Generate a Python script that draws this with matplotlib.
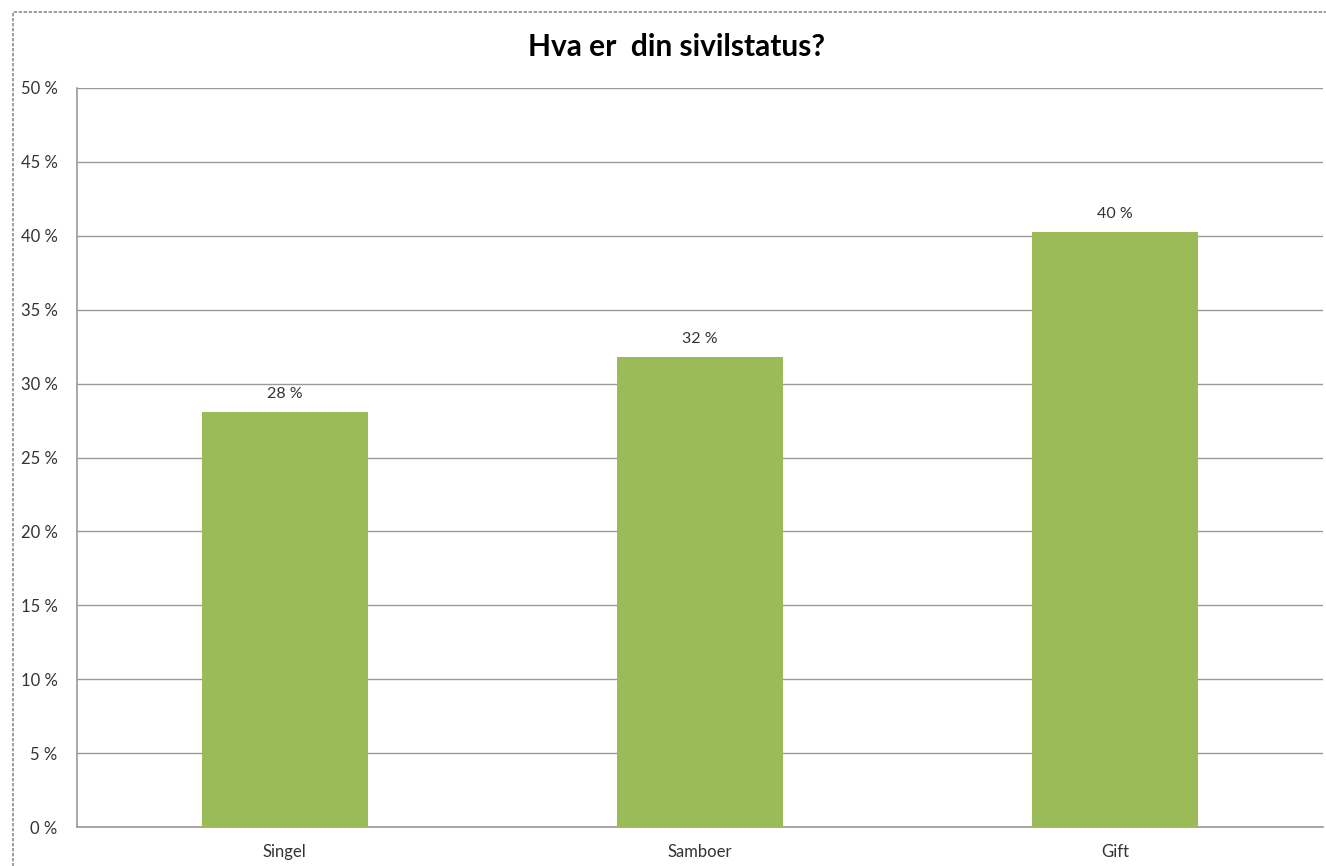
import matplotlib
matplotlib.use("Agg")
import matplotlib.pyplot as plt
from matplotlib.patches import Rectangle
from matplotlib.ticker import MultipleLocator, FuncFormatter

categories = ["Singel", "Samboer", "Gift"]
values = [28.05, 31.8, 40.25]
labels = ["28 %", "32 %", "40 %"]
title = "Hva er  din sivilstatus?"

plt.rcParams['font.family'] = ['Lato', 'DejaVu Sans']

fig = plt.figure(figsize=(13.26, 8.66), dpi=100)
W, H = 1326, 866
# outer dashed border (left and top visible)
fig.patches.append(Rectangle((13 / W, -0.01), 1.1, 1.01 - 12 / H,
                             transform=fig.transFigure, fill=False,
                             edgecolor='#8c8c8c', linewidth=1.2, linestyle=(0, (2, 1))))

ax = fig.add_axes([77 / W, 1 - 827 / H, (1323 - 77) / W, (827 - 88) / H])
x = range(len(categories))
ax.bar(x, values, width=0.4, color='#9bbb59', zorder=3)
ax.set_xlim(-0.5, len(categories) - 0.5)
ax.set_ylim(0, 50)
ax.yaxis.set_major_locator(MultipleLocator(5))
ax.yaxis.set_major_formatter(FuncFormatter(lambda v, p: f"{int(round(v))} %"))
ax.grid(axis='y', color='#999999', linewidth=1.0, zorder=0)
ax.set_xticks(list(x))
ax.set_xticklabels(categories)
ax.tick_params(axis='both', length=0, labelsize=12, colors='#333333')
ax.tick_params(axis='y', pad=14)
ax.tick_params(axis='x', pad=12)
for s in ['top', 'right']:
    ax.spines[s].set_visible(False)
for s in ['left', 'bottom']:
    ax.spines[s].set_color('#999999')
    ax.spines[s].set_linewidth(1.2)

for i, (v, lab) in enumerate(zip(values, labels)):
    ax.annotate(lab, (i, v), xytext=(0, 8), textcoords='offset points',
                ha='center', va='bottom', fontsize=11.5, color='#333333')

fig.text(677 / W, 1 - 47 / H, title, ha='center', va='center', fontsize=21.5,
         fontweight='bold', color='black')

fig.savefig("out.png", dpi=100)
